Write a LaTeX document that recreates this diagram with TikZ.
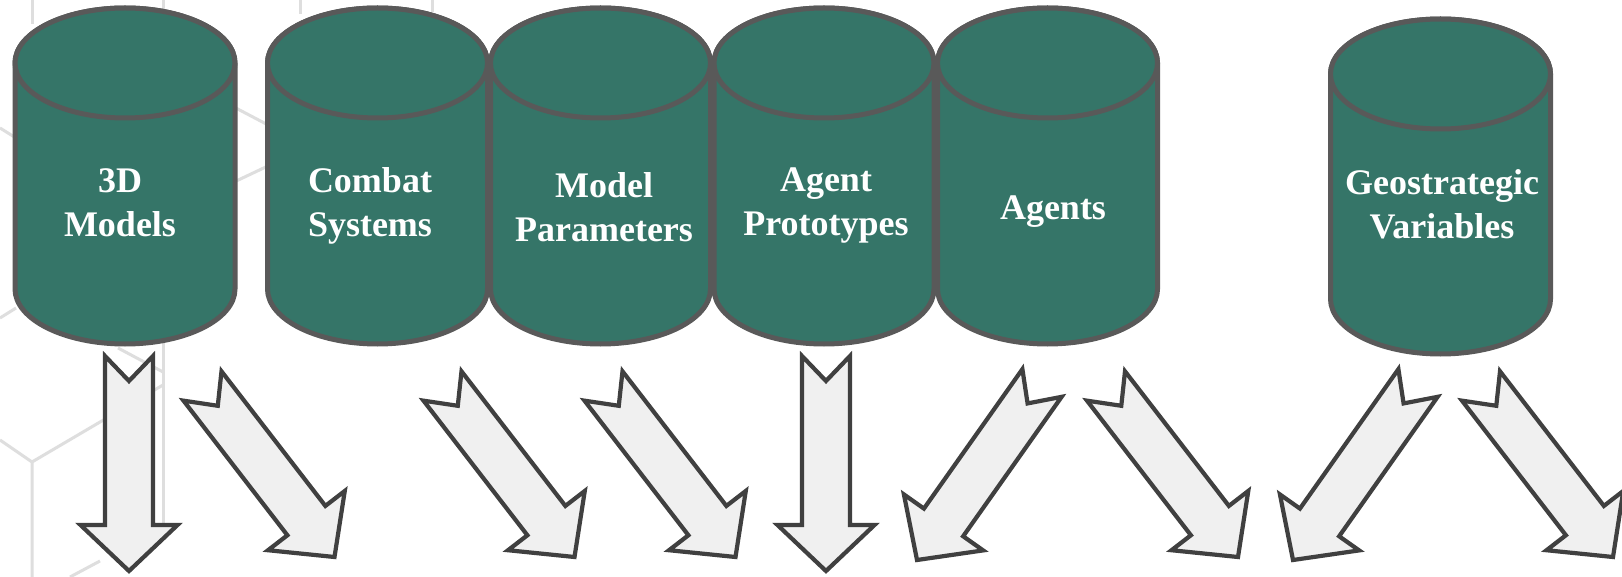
\documentclass[tikz,border=0pt]{standalone}
\usepackage{fontspec}
\setmainfont{Liberation Serif}
\usetikzlibrary{calc}
\definecolor{cylfill}{RGB}{53,117,104}
\definecolor{cylline}{RGB}{89,89,89}
\definecolor{arrfill}{RGB}{240,240,240}
\definecolor{arrline}{RGB}{64,64,64}
\definecolor{hexline}{RGB}{222,222,222}
\tikzset{
  cylstyle/.style={fill=cylfill, draw=cylline, line width=5pt, line join=round},
  arrstyle/.style={fill=arrfill, draw=arrline, line width=4.2pt, line join=miter},
  hexstyle/.style={draw=hexline, line width=3pt},
  cyllabel/.style={text=white, font=\bfseries\fontsize{36}{44}\selectfont, inner sep=0pt, anchor=base}
}
% cylinder: #1 centre x, #2 top-ellipse centre y, #3 bottom-ellipse centre y
\newcommand\dbcyl[3]{%
  \path[cylstyle] (#1-110,#2) -- (#1-110,#3)
     arc[start angle=180, end angle=0, x radius=110, y radius=55]
     -- (#1+110,#2)
     arc[start angle=0, end angle=-180, x radius=110, y radius=55] -- cycle;
  \path[cylstyle] (#1,#2) ellipse[x radius=110, y radius=55];
}
% block arrow with notched tail: #1 name, #2 tail centre, #3 tip
\newcommand\blockarrow[3]{%
  \coordinate (#1t) at #2;
  \coordinate (#1p) at #3;
  \coordinate (#1n) at ($(#1t)!25pt!(#1p)$);
  \coordinate (#1h) at ($(#1p)!46pt!(#1t)$);
  \path[arrstyle]
    ($(#1t)!24pt!90:(#1p)$) -- (#1n) -- ($(#1t)!24pt!-90:(#1p)$)
    -- ($(#1h)!24pt!-90:(#1p)$) -- ($(#1h)!48.5pt!-90:(#1p)$)
    -- (#1p)
    -- ($(#1h)!48.5pt!90:(#1p)$) -- ($(#1h)!24pt!90:(#1p)$) -- cycle;
}
\begin{document}
\begin{tikzpicture}[x=1pt, y=-1pt]
\useasboundingbox (0,0) rectangle (1622,577);
\fill[white] (0,0) rectangle (1622,577);
% faint background lines
\draw[hexstyle] (32,0) -- (32,24);
\draw[hexstyle] (163,0) -- (163,14);
\draw[hexstyle] (300,0) -- (300,14);
\draw[hexstyle] (432,0) -- (432,12);
\draw[hexstyle] (0,128) -- (16,138);
\draw[hexstyle] (232,106) -- (270,126);
\draw[hexstyle] (232,183) -- (270,165);
\draw[hexstyle] (0,318) -- (16,308);
\draw[hexstyle] (0,440) -- (32,462) -- (32,577);
\draw[hexstyle] (32,462) -- (163,385);
\draw[hexstyle] (163,343) -- (163,523);
\draw[hexstyle] (118,348) -- (163,372);
\draw[hexstyle] (70,577) -- (100,561);
% cylinders
\dbcyl{125}{63}{289}
\node[cyllabel] (m3d) at (120,193) {\begin{tabular}[t]{@{}c@{}}3D\\Models\end{tabular}};
\dbcyl{377.5}{63}{289}
\node[cyllabel] (combat) at (370,193) {\begin{tabular}[t]{@{}c@{}}Combat\\Systems\end{tabular}};
\dbcyl{600.5}{63}{289}
\node[cyllabel] (params) at (604,198) {\begin{tabular}[t]{@{}c@{}}Model\\Parameters\end{tabular}};
\dbcyl{824}{63}{289}
\node[cyllabel] (proto) at (826,192) {\begin{tabular}[t]{@{}c@{}}Agent\\Prototypes\end{tabular}};
\dbcyl{1047.5}{63}{289}
\node[cyllabel] (agents) at (1053,220) {Agents};
\dbcyl{1440.5}{74}{299}
\node[cyllabel] (geo) at (1442,195) {\begin{tabular}[t]{@{}c@{}}Geostrategic\\Variables\end{tabular}};
% arrows
\blockarrow{a1}{(129,356)}{(129,571)}
\blockarrow{a2}{(202.5,386)}{(334.5,557)}
\blockarrow{a3}{(442.5,386)}{(574.5,557)}
\blockarrow{a4}{(603.5,386)}{(735.5,557)}
\blockarrow{a5}{(826,356)}{(826,571)}
\blockarrow{a6}{(1042,383)}{(917,560)}
\blockarrow{a7}{(1106,386)}{(1238,557)}
\blockarrow{a8}{(1418,383)}{(1293,560)}
\blockarrow{a9}{(1481,386)}{(1613,557)}
\end{tikzpicture}
\end{document}
